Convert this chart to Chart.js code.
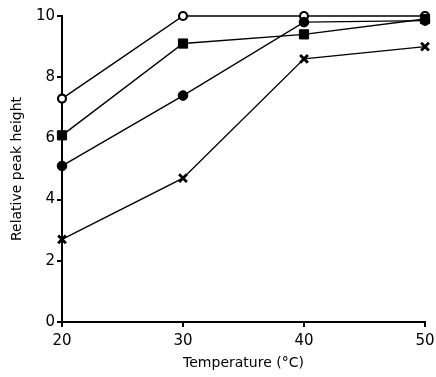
<!DOCTYPE html>
<html>
<head>
<meta charset="utf-8">
<script src="https://cdn.jsdelivr.net/npm/chart.js@4/dist/chart.umd.min.js"></script>
<style>
  html, body { margin: 0; padding: 0; background: #fff; }
  #wrap { width: 436px; height: 377px; }
</style>
</head>
<body>
<div id="wrap"><canvas id="chart" width="436" height="377"></canvas></div>
<script>
// temperatures (°C)
const temps = [20, 30, 40, 50];

// relative peak height, one list per symbol
const openCircle = [7.3, 10.0, 10.0, 10.0];
const filledSquare = [6.1, 9.1, 9.4, 9.9];
const filledCircle = [5.1, 7.4, 9.8, 9.85];
const crosses = [2.7, 4.7, 8.6, 9.0];

const yTicks = [0, 2, 4, 6, 8, 10];
const xTicks = [20, 30, 40, 50];

const FONT = 'DejaVu Sans';

function pts(vals) {
    return temps.map((t, i) => ({ x: t, y: vals[i] }));
}

function series(vals, style, fill, r, bw) {
    return {
        data: pts(vals),
        borderColor: '#000',
        borderWidth: 1.4,
        pointStyle: style,
        pointRadius: r,
        pointBackgroundColor: fill,
        pointBorderColor: '#000',
        pointBorderWidth: bw,
        clip: false,
        tension: 0
    };
}

const ctx = document.getElementById('chart').getContext('2d');
new Chart(ctx, {
    type: 'line',
    data: {
        datasets: [
            series(crosses, 'crossRot', '#000', 5.5, 2.8),
            series(filledCircle, 'circle', '#000', 4.8, 1),
            series(filledSquare, 'rect', '#000', 6.5, 1),
            series(openCircle, 'circle', '#fff', 4, 2.2)
        ]
    },
    options: {
        responsive: false,
        animation: false,
        layout: { padding: { top: 16, right: 11, left: 4, bottom: 4 } },
        plugins: { legend: { display: false }, tooltip: { enabled: false } },
        scales: {
            x: {
                type: 'linear',
                min: 20, max: 50,
                afterFit: s => { s.height = 51; s.paddingLeft = 0; s.paddingRight = 0; },
                afterBuildTicks: s => { s.ticks = xTicks.map(v => ({ value: v })); },
                grid: { drawOnChartArea: false, drawTicks: true, tickLength: 5, color: '#000', lineWidth: 2 },
                border: { display: true, color: '#000', width: 2 },
                ticks: { color: '#000', font: { family: FONT, size: 15 }, padding: 5, maxRotation: 0 },
                title: { display: true, text: 'Temperature (°C)', color: '#000', font: { family: FONT, size: 14 }, padding: { top: 0, bottom: 1 } }
            },
            y: {
                min: 0, max: 10,
                afterFit: s => { s.width = 58; s.paddingTop = 0; s.paddingBottom = 0; },
                afterBuildTicks: s => { s.ticks = yTicks.map(v => ({ value: v })); },
                grid: { drawOnChartArea: false, drawTicks: true, tickLength: 5, color: '#000', lineWidth: 2 },
                border: { display: true, color: '#000', width: 2 },
                ticks: { color: '#000', font: { family: FONT, size: 15 }, padding: 2 },
                title: { display: true, text: 'Relative peak height', color: '#000', font: { family: FONT, size: 14 }, padding: { top: 5, bottom: 6 } }
            }
        }
    }
});
</script>
</body>
</html>
